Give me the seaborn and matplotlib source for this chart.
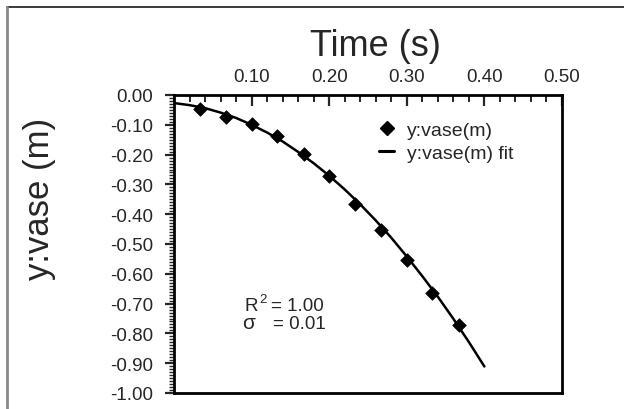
import matplotlib
matplotlib.use("Agg")
import matplotlib.pyplot as plt
import matplotlib.ticker as mticker
from matplotlib.lines import Line2D
import pandas as pd
import seaborn as sns

# Measured data (time in s, vertical position in m)
time_s = [0.033, 0.067, 0.100, 0.133, 0.167, 0.200, 0.233, 0.267, 0.300, 0.333, 0.367]
y_vase = [-0.047, -0.074, -0.097, -0.137, -0.198, -0.272, -0.366, -0.453, -0.554, -0.664, -0.772]

# Fit curve
fit_t = [0.00, 0.02, 0.04, 0.06, 0.08, 0.10, 0.12, 0.14, 0.16, 0.18, 0.20,
         0.22, 0.24, 0.26, 0.28, 0.30, 0.32, 0.34, 0.36, 0.38, 0.40]
fit_y = [-0.027, -0.034, -0.044, -0.059, -0.077, -0.100, -0.126, -0.156, -0.191, -0.229, -0.271,
         -0.317, -0.367, -0.421, -0.479, -0.542, -0.608, -0.677, -0.751, -0.829, -0.911]

x_ticks = [0.10, 0.20, 0.30, 0.40, 0.50]
y_ticks = [0.00, -0.10, -0.20, -0.30, -0.40, -0.50, -0.60, -0.70, -0.80, -0.90, -1.00]
x_label = "Time (s)"
y_label = "y:vase (m)"
series_label = "y:vase(m)"
fit_label = "y:vase(m) fit"
r2_text = "= 1.00"
sigma_text = "= 0.01"

sns.set_style("white")
plt.rcParams["font.family"] = ["Liberation Sans", "DejaVu Sans"]
plt.rcParams["axes.unicode_minus"] = False

fig = plt.figure(figsize=(6.24, 4.10), dpi=100)
ax = fig.add_axes([174 / 624, 1 - 394 / 410, (562 - 174) / 624, (394 - 96) / 410])

df_pts = pd.DataFrame({"t": time_s, "y": y_vase})
df_fit = pd.DataFrame({"t": fit_t, "y": fit_y})

sns.lineplot(data=df_fit, x="t", y="y", ax=ax, color="black", linewidth=1.8,
             sort=False, legend=False, zorder=2)
sns.scatterplot(data=df_pts, x="t", y="y", ax=ax, marker="D", s=48, color="black",
                edgecolor="black", linewidth=0.5, legend=False, zorder=3)

ax.set_xlim(0, 0.5)
ax.set_ylim(-1.0, 0.0)

# x axis on top
ax.xaxis.set_ticks_position("top")
ax.xaxis.set_label_position("top")
ax.set_xticks(x_ticks)
ax.xaxis.set_major_formatter(mticker.FormatStrFormatter("%.2f"))
ax.xaxis.set_minor_locator(mticker.MultipleLocator(0.02))
ax.set_yticks(y_ticks)
ax.yaxis.set_major_formatter(mticker.FormatStrFormatter("%.2f"))
ax.yaxis.set_minor_locator(mticker.MultipleLocator(0.01))
ax.yaxis.set_ticks_position("left")

ax.tick_params(axis="x", which="major", direction="in", length=8, width=1.6,
               labelsize=13.5, pad=7.5, top=True, bottom=False, labeltop=True, labelbottom=False)
ax.tick_params(axis="x", which="minor", direction="in", length=5, width=1.4, top=True, bottom=False)
ax.tick_params(axis="y", which="major", direction="out", length=6.5, width=1.6,
               labelsize=13.5, pad=8.5, left=True, right=False)
ax.tick_params(axis="y", which="minor", direction="out", length=3.6, width=1.0, left=True, right=False)

for sp in ax.spines.values():
    sp.set_visible(True)
    sp.set_linewidth(2.0)
    sp.set_color("black")

ax.set_xlabel("")
ax.set_ylabel("")
fig.text(375 / 624, 1 - 46 / 410, x_label, fontsize=26, ha="center", va="center")
fig.text(39 / 624, 1 - 199 / 410, y_label, fontsize=25, ha="center", va="center", rotation=90)

handles = [
    Line2D([], [], marker="D", linestyle="none", color="black", markersize=7),
    Line2D([], [], color="black", linewidth=2.2),
]
ax.legend(handles, [series_label, fit_label], loc="upper left",
          bbox_to_anchor=(0.528, 0.912), frameon=False, fontsize=14,
          handlelength=0.8, handletextpad=0.64, borderpad=0, borderaxespad=0,
          labelspacing=0.3)

tf = fig.transFigure
fig.text(244 / 624, 1 - 311 / 410, "R", fontsize=13.5, ha="left", va="baseline")
fig.text(259 / 624, 1 - 303 / 410, "2", fontsize=9.5, ha="left", va="baseline")
fig.text(271 / 624, 1 - 311 / 410, r2_text, fontsize=13.5, ha="left", va="baseline")
fig.text(242 / 624, 1 - 329 / 410, "σ", fontsize=15, ha="left", va="baseline")
fig.text(273 / 624, 1 - 329 / 410, sigma_text, fontsize=13.5, ha="left", va="baseline")

# outer frame (screenshot border)
fig.add_artist(Line2D([7 / 624, 1.0], [1 - 8 / 410, 1 - 8 / 410], transform=tf,
                      color="#1a1a1a", linewidth=1.2))
fig.add_artist(Line2D([7 / 624, 7 / 624], [0.0, 1 - 8 / 410], transform=tf,
                      color="#8a8a8a", linewidth=2.0))

fig.savefig("out.png", dpi=100)
